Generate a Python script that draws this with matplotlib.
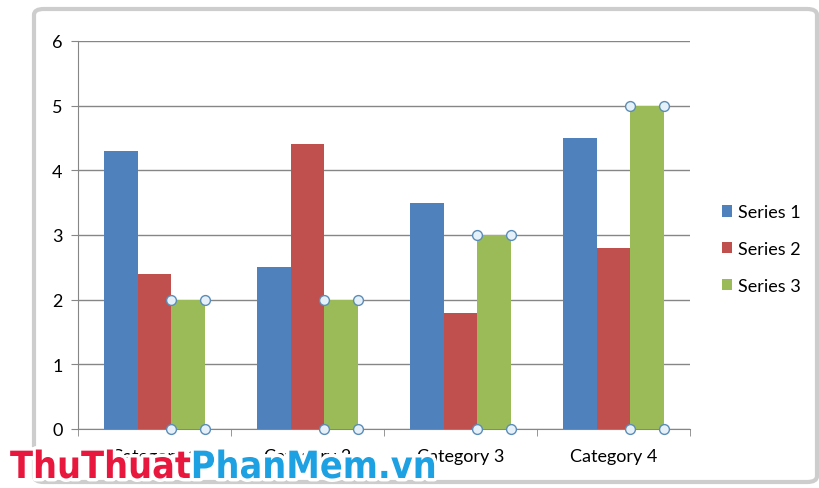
import matplotlib.pyplot as plt
import matplotlib.patheffects as pe
import numpy as np
from matplotlib.patches import FancyBboxPatch

# datos
categorias = ["Category 1", "Category 2", "Category 3", "Category 4"]
series = ["Series 1", "Series 2", "Series 3"]
serie1 = [4.3, 2.5, 3.5, 4.5]
serie2 = [2.4, 4.4, 1.8, 2.8]
serie3 = [2.0, 2.0, 3.0, 5.0]
colores = ["#4F81BD", "#C0504D", "#9BBB59"]

plt.rcParams['font.family'] = ['Lato', 'DejaVu Sans']

fig = plt.figure(figsize=(8.2, 4.89), dpi=100)

# marco del grafico (estilo Excel seleccionado)
marco = FancyBboxPatch((34 / 820, 6 / 489), 783 / 820, 473 / 489,
                       boxstyle="round,pad=0,rounding_size=0.012",
                       transform=fig.transFigure, facecolor="white",
                       edgecolor="#CDCDCD", linewidth=3, zorder=-5)
fig.patches.append(marco)

ax = fig.add_axes([78 / 820, 59 / 489, 612 / 820, 388 / 489])
ax.set_facecolor("none")

x = np.arange(len(categorias))
ancho = 0.218
valores = [serie1, serie2, serie3]
for i, (vals, col, nombre) in enumerate(zip(valores, colores, series)):
    ax.bar(x + (i - 1) * ancho, vals, ancho, color=col, label=nombre, zorder=3)

# circulos de seleccion en la serie 3
xs3 = x + ancho
for izq, der, v in zip(xs3 - ancho / 2, xs3 + ancho / 2, serie3):
    ax.scatter([izq, der, izq, der], [v, v, 0, 0], s=50, facecolor="#E6F0F8",
               edgecolor="#5B8DB8", linewidth=1, zorder=5, clip_on=False)

ax.set_xlim(-0.5, 3.5)
ax.set_ylim(0, 6)
ax.set_yticks(range(7))
ax.set_xticks(x)
ax.set_xticklabels(categorias)
ax.set_xticks(np.arange(-0.5, 4, 1), minor=True)
ax.tick_params(axis="x", which="major", length=0, pad=14, labelsize=13)
ax.tick_params(axis="x", which="minor", length=5, color="#868686", direction="out")
ax.tick_params(axis="y", length=5, color="#868686", labelsize=13, pad=6)

ax.grid(axis="y", color="#868686", linewidth=1, zorder=0)
for lado in ["top", "right"]:
    ax.spines[lado].set_visible(False)
ax.spines["left"].set_color("#868686")
ax.spines["bottom"].set_color("#868686")

ax.legend(loc="center left", bbox_to_anchor=(1.025, 0.464), frameon=False,
          fontsize=13, handlelength=0.6, handleheight=0.6, handletextpad=0.3,
          labelspacing=1.15)

# marca de agua
borde = [pe.withStroke(linewidth=5, foreground="white")]
t1 = fig.text(10 / 820, 10 / 489, "ThuThuat", color="#E8173E", fontsize=27,
              fontweight="bold", fontstretch="condensed", family="DejaVu Sans",
              zorder=10, path_effects=borde)
fig.canvas.draw()
bb = t1.get_window_extent()
fig.text(bb.x1 / 820, 10 / 489, "PhanMem.vn", color="#1DA1E2", fontsize=27,
         fontweight="bold", fontstretch="condensed", family="DejaVu Sans",
         zorder=10, path_effects=borde)

plt.savefig("out.png")
